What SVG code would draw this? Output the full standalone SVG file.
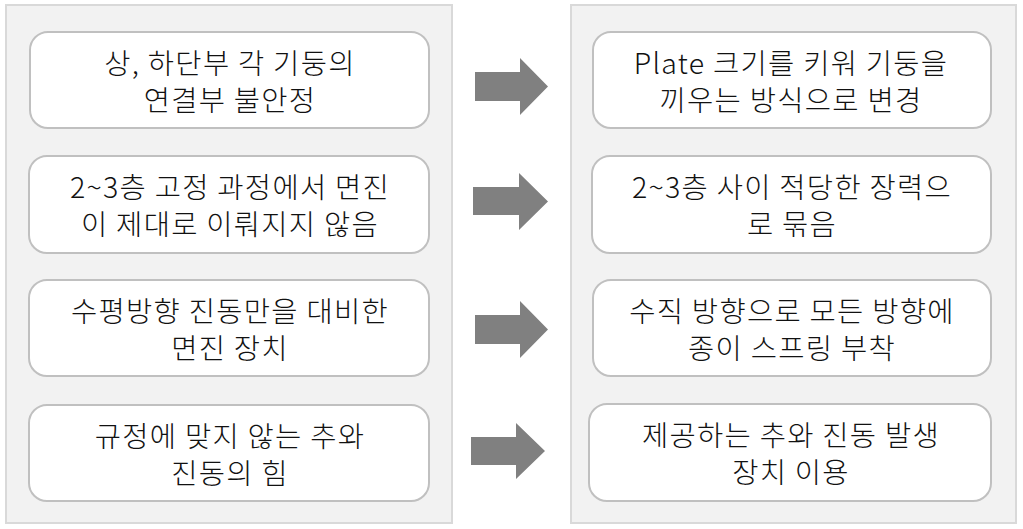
<svg xmlns="http://www.w3.org/2000/svg" width="1023" height="529" viewBox="0 0 1023 529">
<style>
.panel{fill:#f2f2f2;stroke:#d9d9d9;stroke-width:2}
.box{fill:#ffffff;stroke:#c0c0c0;stroke-width:2}
.arrow{fill:#808080}
text{font-family:"Noto Sans CJK KR","Noto Sans",sans-serif;font-size:28.5px;font-weight:300;letter-spacing:1.3px;fill:#111111;text-anchor:middle}
</style>
<rect width="1023" height="529" fill="#ffffff"/>
<g id="panel-left"><rect class="panel" x="6" y="5" width="446" height="518"/></g>
<g id="panel-right"><rect class="panel" x="571" y="5" width="445" height="518"/></g>
<g id="l1"><rect class="box" x="30" y="32" width="399" height="96" rx="18"/><text x="230" y="74">상, 하단부 각 기둥의</text><text x="230" y="111">연결부 불안정</text></g>
<g id="l2"><rect class="box" x="29" y="156" width="400" height="97" rx="18"/><text x="230" y="198">2~3층 고정 과정에서 면진</text><text x="230" y="235">이 제대로 이뤄지지 않음</text></g>
<g id="l3"><rect class="box" x="29" y="280" width="400" height="96" rx="18"/><text x="230" y="322">수평방향 진동만을 대비한</text><text x="230" y="359">면진 장치</text></g>
<g id="l4"><rect class="box" x="29" y="405" width="400" height="96" rx="18"/><text x="230" y="447">규정에 맞지 않는 추와</text><text x="230" y="484">진동의 힘</text></g>
<g id="r1"><rect class="box" x="593" y="32" width="398" height="96" rx="18"/><text x="791" y="74">Plate 크기를 키워 기둥을</text><text x="791" y="111">끼우는 방식으로 변경</text></g>
<g id="r2"><rect class="box" x="592" y="156" width="399" height="97" rx="18"/><text x="792" y="198">2~3층 사이 적당한 장력으</text><text x="792" y="235">로 묶음</text></g>
<g id="r3"><rect class="box" x="593" y="280" width="398" height="96" rx="18"/><text x="792" y="322">수직 방향으로 모든 방향에</text><text x="792" y="359">종이 스프링 부착</text></g>
<g id="r4"><rect class="box" x="589" y="404" width="402" height="97" rx="18"/><text x="791" y="446">제공하는 추와 진동 발생</text><text x="791" y="483">장치 이용</text></g>
<g id="connectors">
<polygon class="arrow" points="475,72 520,72 520,58 548,86.5 520,115 520,101 475,101"/>
<polygon class="arrow" points="473,187 519,187 519,173 548,201.5 519,230 519,215 473,215"/>
<polygon class="arrow" points="475,315 520,315 520,301 548,329.5 520,358 520,344 475,344"/>
<polygon class="arrow" points="471,437 516,437 516,423 545,451 516,479 516,465 471,465"/>
</g>
</svg>
